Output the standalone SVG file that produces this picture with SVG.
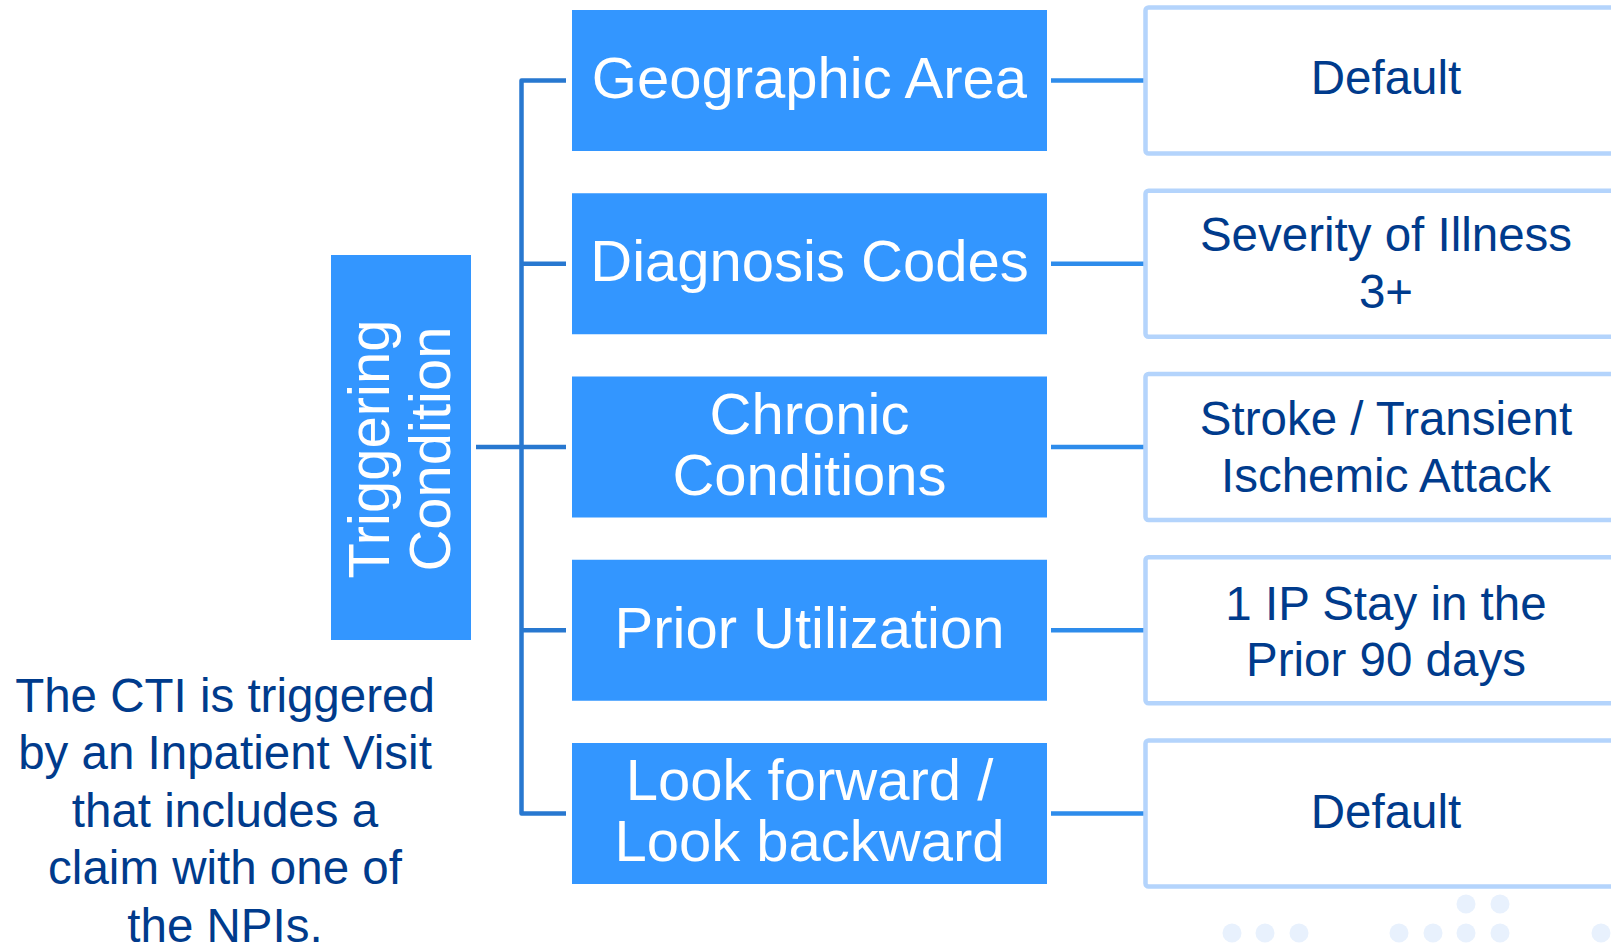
<svg xmlns="http://www.w3.org/2000/svg" width="1611" height="946" viewBox="0 0 1611 946">
<style>
.bb{fill:#3396FF;}
.bt{fill:#FFFFFF;font-family:"Liberation Sans",Arial,sans-serif;font-size:58px;text-anchor:middle;}
.ob{fill:#FFFFFF;stroke:#B4D4FC;stroke-width:4.5;}
.ot{fill:#003B8C;font-family:"Liberation Sans",Arial,sans-serif;font-size:47.5px;text-anchor:middle;}
.tree{fill:none;stroke:#2878D0;stroke-width:4.5;stroke-linejoin:round;}
.rc{fill:none;stroke:#2E8CEB;stroke-width:4.5;}
.dot{fill:#E8F1FD;}
</style>
<rect width="1611" height="946" fill="#FFFFFF"/>
<g id="dots">
<circle class="dot" cx="1232" cy="933" r="9.5"/>
<circle class="dot" cx="1265" cy="933" r="9.5"/>
<circle class="dot" cx="1299" cy="933" r="9.5"/>
<circle class="dot" cx="1399" cy="933" r="9.5"/>
<circle class="dot" cx="1433" cy="933" r="9.5"/>
<circle class="dot" cx="1466" cy="933" r="9.5"/>
<circle class="dot" cx="1500" cy="933" r="9.5"/>
<circle class="dot" cx="1601" cy="933" r="9.5"/>
<circle class="dot" cx="1466" cy="904" r="9.5"/>
<circle class="dot" cx="1500" cy="904" r="9.5"/>
</g>
<g id="connectors">
<path class="tree" d="M566,80.5 H521.5 V813.5 H566"/>
<path class="tree" d="M521.5,263.75 H566 M521.5,447 H566 M521.5,630.25 H566 M476,447 H521.5"/>
<path class="rc" d="M1051,80.5 H1145 M1051,263.75 H1145 M1051,447 H1145 M1051,630.25 H1145 M1051,813.5 H1145"/>
</g>
<g id="triggering">
<rect class="bb" x="331" y="255" width="140" height="385"/>
<text class="bt" transform="translate(388.5,449) rotate(-90)"><tspan x="0" y="0">Triggering</tspan><tspan x="0" y="61">Condition</tspan></text>
</g>
<g id="geo">
<rect class="bb" x="572" y="10" width="475" height="141"/>
<text class="bt" x="809.5" y="97.5">Geographic Area</text>
</g>
<g id="diag">
<rect class="bb" x="572" y="193.25" width="475" height="141"/>
<text class="bt" x="809.5" y="281">Diagnosis Codes</text>
</g>
<g id="chronic">
<rect class="bb" x="572" y="376.5" width="475" height="141"/>
<text class="bt" x="809.5" y="434">Chronic</text>
<text class="bt" x="809.5" y="495">Conditions</text>
</g>
<g id="prior">
<rect class="bb" x="572" y="559.75" width="475" height="141"/>
<text class="bt" x="809.5" y="648">Prior Utilization</text>
</g>
<g id="look">
<rect class="bb" x="572" y="743" width="475" height="141"/>
<text class="bt" x="809.5" y="799.5">Look forward /</text>
<text class="bt" x="809.5" y="860.5">Look backward</text>
</g>
<g id="out1">
<rect class="ob" x="1145.5" y="7.5" width="520" height="146" rx="3"/>
<text class="ot" x="1386" y="94">Default</text>
</g>
<g id="out2">
<rect class="ob" x="1145.5" y="190.75" width="520" height="146" rx="3"/>
<text class="ot" x="1386" y="250.5">Severity of Illness</text>
<text class="ot" x="1386" y="307.5">3+</text>
</g>
<g id="out3">
<rect class="ob" x="1145.5" y="374" width="520" height="146" rx="3"/>
<text class="ot" x="1386" y="435">Stroke / Transient</text>
<text class="ot" x="1386" y="492">Ischemic Attack</text>
</g>
<g id="out4">
<rect class="ob" x="1145.5" y="557.25" width="520" height="146" rx="3"/>
<text class="ot" x="1386" y="619.5">1 IP Stay in the</text>
<text class="ot" x="1386" y="676">Prior 90 days</text>
</g>
<g id="out5">
<rect class="ob" x="1145.5" y="740.5" width="520" height="146" rx="3"/>
<text class="ot" x="1386" y="827.5">Default</text>
</g>
<g id="note">
<text class="ot" x="225" font-size="48"><tspan x="225" y="711.5">The CTI is triggered</tspan><tspan x="225" y="769">by an Inpatient Visit</tspan><tspan x="225" y="826.5">that includes a</tspan><tspan x="225" y="884">claim with one of</tspan><tspan x="225" y="941.5">the NPIs.</tspan></text>
</g>
</svg>
